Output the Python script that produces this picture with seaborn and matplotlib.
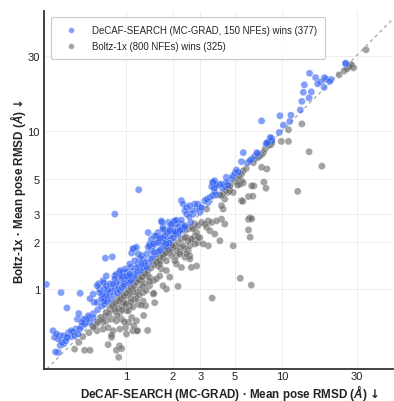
import numpy as np
import pandas as pd
import matplotlib
matplotlib.use("Agg")
import matplotlib.pyplot as plt
import seaborn as sns
from matplotlib.ticker import FixedLocator, FixedFormatter, NullLocator

# ---- data: (DeCAF-SEARCH RMSD, Boltz-1x RMSD), by region ----
hi_decaf = [15.0,16.4,13.9,13.7,15.4,13.4,14.9,13.1,9.7,11.4,10.2,11.2,9.6,8.6,16.9,17.7,18.7,19.1,20.6,18.6,20.2,25.5,25.6,7.4,8.0,
            23.2,25.0,26.0,27.0,27.7,28.7,28.0,34.5,9.9,11.0,11.0,13.4,14.9,18.0,12.6,8.6]
hi_boltz = [23.2,21.8,19.6,17.6,17.7,15.4,16.2,13.6,12.5,12.6,10.9,11.5,9.8,9.0,19.9,20.5,21.8,21.2,21.2,18.9,20.6,26.9,26.6,11.6,8.4,
            22.7,24.0,24.7,25.5,26.3,25.1,25.9,32.7,8.6,8.6,10.2,11.1,7.4,6.0,4.15,8.5]

mid_decaf = [8.4,8.1,7.9,8.2,8.6,5.65,5.5,6.24,6.4,6.0,6.55,6.9,7.0,6.7,7.0,5.1,5.25,5.0,5.5,5.3,3.7,3.6,3.8,3.55,3.7,4.1,4.4,4.5,4.3,4.6,4.85,4.75,
             8.5,8.5,7.8,7.6,7.4,7.2,6.7,7.4,8.0,5.9,5.65,5.25,5.5,5.0,5.65,4.64,4.4,4.2,4.1,4.0,7.66,7.9,6.4,6.6,6.1,6.5]
mid_boltz = [9.1,8.5,8.3,8.1,8.7,7.3,6.4,6.5,6.65,6.3,6.3,7.3,7.2,6.95,6.8,5.67,5.5,5.4,5.35,5.2,4.85,4.75,4.55,4.45,4.35,4.6,4.75,4.55,4.45,4.5,5.2,5.0,
             8.4,8.2,7.7,7.3,7.1,6.95,6.65,5.9,5.75,5.8,5.6,5.0,4.85,4.8,4.7,4.5,4.2,4.0,3.9,3.95,4.75,4.35,4.5,4.5,3.85,3.87]

out_decaf = [5.6,6.1,6.25,6.4,6.1,6.25,4.87,5.4,6.36,5.2,5.37,3.57,1.51,1.30,1.18,1.38,1.125,1.34,1.26,2.16]
out_boltz = [3.59,2.76,2.83,2.78,2.37,2.13,1.88,1.17,1.06,4.55,4.6,0.877,0.94,0.68,0.545,0.547,0.586,0.784,0.79,1.04]

c_decaf = [4.4,4.15,4.0,3.6,3.7,3.7,3.6,3.8,3.45,3.3,3.2,3.37,2.27,2.33,2.45,2.39,2.57,2.77,2.9,2.98,2.84,2.64,2.98,2.7,2.45,1.69,1.73,1.87,1.96,2.06,
           2.11,2.16,2.27,2.01,1.91,1.78,1.61,1.53,1.46,1.39,1.42,1.50,1.57,1.65,1.73,1.82,1.91,2.06,2.16,2.33,3.06,3.29,
           4.42,4.64,4.53,4.87,5.5,4.3,4.1,4.2,3.81,4.1,4.3,4.0,3.71,3.45,3.29,3.21,3.06,2.9,2.77,2.64,2.51,2.39,2.45,2.64,2.77,2.98,2.9,3.13,3.37,2.27,
           2.16,2.06,1.96,2.22,2.51,2.57,2.39,2.11,1.91,1.78,1.80,1.65,1.62,1.56,3.54,3.37]
c_boltz = [5.1,4.35,4.6,4.7,4.4,4.1,3.9,3.95,3.8,3.7,3.62,3.54,3.63,3.45,3.28,3.13,3.37,3.45,3.45,3.28,3.21,3.13,3.06,2.98,2.98,2.7,2.46,2.64,2.52,2.7,
           2.58,2.46,2.58,2.34,2.40,2.34,2.28,2.17,2.07,2.28,1.93,1.88,1.97,2.07,2.12,2.02,2.17,2.23,2.28,2.40,3.28,3.21,
           4.4,4.19,4.09,4.09,3.63,3.71,3.37,3.21,2.7,2.77,2.58,2.02,2.23,2.34,2.46,2.58,2.64,2.52,2.58,2.46,2.40,2.34,2.12,2.07,2.17,2.12,1.97,1.93,1.88,2.07,
           1.97,1.88,1.84,1.71,1.75,1.62,1.59,1.62,1.71,1.67,1.76,1.58,1.55,1.48,2.64,2.7]

d_decaf = [0.85,1.70,1.73,1.96,2.03,2.11,2.27,2.55,2.60,2.39,2.40,2.22,2.06,1.91,1.84,1.77,1.66,1.57,1.61,1.50,1.42,1.39,1.46,1.73,1.82,1.90,2.02,2.10,2.16,2.23,
           2.30,1.82,1.65,1.53,1.36,1.26,1.17,1.11,1.2,1.23,1.14,1.06,1.08,1.17,1.26,1.32,1.36,0.99,0.96,0.92,0.87,0.94,1.01,1.06,0.85,0.83,0.79,0.75,0.72,0.73,
           0.77,0.81,0.71,0.68,0.75,0.70,0.73,0.74,0.82,
           2.39,2.51,2.63,2.77,2.57,2.33,2.39,2.22,2.11,2.01,1.91,1.96,2.06,2.11,2.22,2.45,2.57,2.63,2.84,2.70,2.84,2.91,2.27,1.82,1.73,1.65,1.61,1.69,1.82,1.91,
           1.65,1.57,1.50,1.42,1.36,1.31,1.25,1.19,1.14,1.26,1.32,1.42,1.50,1.73,1.82,1.29,1.23,1.11,1.06,1.01,1.08,0.99,0.94,0.89,0.85,0.83,0.92,1.17,1.20,1.29,
           1.53,1.11,1.04,0.79,0.75]
d_boltz = [2.98,2.65,2.40,2.58,2.68,2.73,2.73,2.87,2.64,2.52,2.46,2.36,2.31,2.34,2.28,2.17,2.10,2.17,1.97,1.93,1.88,1.84,1.75,1.97,1.93,1.95,2.11,2.25,2.2,2.33,
           2.45,1.84,1.75,1.71,1.67,1.63,1.84,1.8,1.67,1.55,1.51,1.44,1.37,1.37,1.44,1.47,1.37,1.34,1.28,1.31,1.24,1.21,1.21,1.24,1.16,1.08,1.08,1.05,1.10,1.0,
           0.98,1.0,0.93,0.95,0.91,0.87,0.84,1.57,1.6,
           2.12,2.02,2.07,1.93,1.88,1.88,1.80,1.84,1.75,1.84,1.75,1.63,1.51,1.44,1.67,1.67,1.55,1.37,1.40,2.40,2.28,2.12,1.37,1.51,1.585,1.51,1.40,1.34,1.31,1.19,
           1.21,1.16,1.13,1.19,1.21,1.27,1.2,1.15,1.10,1.13,1.08,1.05,0.93,1.05,1.0,0.95,1.0,1.0,0.95,0.91,0.87,0.82,0.78,0.75,0.73,0.80,0.89,0.87,0.80,0.84,
           0.82,0.77,0.73,0.75,0.71]

e_decaf = [0.31,0.385,0.42,0.51,0.67,0.655,0.618,0.59,0.625,0.655,0.715,0.75,0.79,0.77,0.916,1.02,0.94,1.0,0.85,0.87,0.89,0.97,1.06,1.08,1.13,0.5,0.49,0.535,0.525,0.56,
           0.575,0.545,0.59,0.618,0.447,0.43,0.459,0.507,0.494,0.47,0.42,0.40,0.378,0.36,0.35,0.342,0.37,0.39,0.413,0.40,0.38,0.355,0.37,0.425,0.75,0.715,0.85,0.68,1.21,1.13,
           1.09,
           0.47,0.545,0.59,0.77,0.91,0.94,0.90,0.81,0.618,0.655,0.715,0.77,0.83,0.916,0.995,0.75,0.81,0.87,0.94,1.04,1.09,1.17,1.01,0.916,0.85,1.06,1.14,0.97,0.87,1.04,
           1.17,0.94,0.69,0.715,0.65,1.01,1.11,1.19,0.81,0.87]
e_boltz = [1.07,0.95,0.76,0.94,1.08,1.05,0.93,0.87,0.824,0.824,0.89,0.845,0.95,0.91,1.27,1.28,1.19,1.16,1.02,1.10,1.0,1.05,1.21,1.13,1.2,0.70,0.645,0.645,0.615,0.645,
           0.678,0.60,0.615,0.66,0.545,0.53,0.538,0.558,0.52,0.507,0.495,0.507,0.507,0.52,0.495,0.545,0.483,0.46,0.47,0.45,0.44,0.40,0.397,0.495,1.21,1.13,1.21,1.0,4.25,1.81,
           1.69,
           0.417,0.41,0.41,0.445,0.437,0.42,0.37,0.495,0.57,0.545,0.558,0.57,0.545,0.558,0.57,0.63,0.645,0.63,0.645,0.615,0.66,0.63,0.73,0.71,0.747,0.78,0.86,0.824,0.845,0.93,
           0.95,0.908,0.66,0.615,0.60,0.52,0.545,0.545,0.51,0.41]

dense_decaf = [0.80,0.84,0.88,0.92,0.95,0.98,1.03,1.05,1.10,1.15,1.19,1.24,1.28,1.33,1.40,1.45,1.49,1.55,1.60,1.68,
               1.75,1.86,1.95,0.62,0.66,0.70,0.73,0.76,0.55,0.58,0.45,0.48,0.52,0.98,1.04,0.90,0.93,0.96,1.13,1.20,1.30,
               0.82,0.86,0.90,0.93,0.97,1.0,1.04,1.08,1.13,1.17,1.22,1.27,1.33,1.38,1.45,1.52,1.58,1.65,1.72,1.80,
               1.88,1.98,0.70,0.74,0.78,0.62,0.66,0.58,0.53,0.50,0.88,0.95,1.0,1.08,0.98,1.22,1.35,1.42,1.28,1.12]
dense_boltz = [0.86,0.92,0.95,0.98,1.02,1.08,1.12,1.09,1.16,1.24,1.28,1.31,1.36,1.40,1.47,1.55,1.60,1.66,1.72,1.80,
               1.88,2.0,2.06,0.70,0.74,0.78,0.80,0.83,0.61,0.66,0.50,0.56,0.58,1.14,1.18,1.06,1.14,1.19,1.30,1.43,1.55,
               0.78,0.81,0.84,0.86,0.90,0.94,0.98,1.02,1.05,1.10,1.14,1.19,1.25,1.30,1.36,1.43,1.49,1.44,1.65,1.70,
               1.78,1.90,0.64,0.68,0.70,0.58,0.62,0.53,0.50,0.46,0.68,0.74,0.80,0.83,0.62,0.92,0.98,1.12,1.05,0.95]

tick_values = [1, 2, 3, 5, 10, 30]
tick_labels = ["1", "2", "3", "5", "10", "30"]
label_decaf = "DeCAF-SEARCH (MC-GRAD, 150 NFEs) wins (377)"
label_boltz = "Boltz-1x (800 NFEs) wins (325)"
xlabel = "DeCAF-SEARCH (MC-GRAD) · Mean pose RMSD ($\\mathit{Å}$) $\\mathsf{↓}$"
ylabel = "Boltz-1x · Mean pose RMSD ($\\mathit{Å}$) $\\mathsf{↓}$"

decaf = hi_decaf + mid_decaf + out_decaf + c_decaf + d_decaf + e_decaf + dense_decaf
boltz = hi_boltz + mid_boltz + out_boltz + c_boltz + d_boltz + e_boltz + dense_boltz
df = pd.DataFrame({"decaf": decaf, "boltz": boltz})
df["winner"] = np.where(df["decaf"] < df["boltz"], label_decaf, label_boltz)
df = df.sort_values("winner", ascending=True).reset_index(drop=True)

sns.set_theme(style="white")
plt.rcParams["font.family"] = ["Liberation Sans", "DejaVu Sans"]
plt.rcParams["mathtext.fontset"] = "custom"
plt.rcParams["mathtext.it"] = "Liberation Sans:italic:bold"
plt.rcParams["mathtext.rm"] = "Liberation Sans:bold"
plt.rcParams["mathtext.sf"] = "DejaVu Sans:bold"

fig = plt.figure(figsize=(3.94, 4.02), dpi=100)
ax = fig.add_axes([0.112, 0.0796, 0.886, 0.8905])

blue = "#3160f4"
gray = "#666666"
sns.scatterplot(data=df, x="decaf", y="boltz", hue="winner",
                hue_order=[label_decaf, label_boltz], palette=[blue, gray],
                s=26, alpha=0.6, edgecolor="white", linewidth=0.25, ax=ax, zorder=3)

ax.set_xscale("log")
ax.set_yscale("log")
ax.set_xlim(0.30, 51.5)
ax.set_ylim(0.312, 57.5)
ax.axline((1, 1), (10, 10), color="#999999", lw=0.8, ls=(0, (3, 3)), zorder=2)

for axis in (ax.xaxis, ax.yaxis):
    axis.set_major_locator(FixedLocator(tick_values))
    axis.set_major_formatter(FixedFormatter(tick_labels))
    axis.set_minor_locator(NullLocator())
ax.tick_params(axis="both", which="both", length=0, labelsize=8, colors="#222222")
ax.tick_params(axis="x", pad=1.5)
ax.tick_params(axis="y", pad=3)
ax.grid(True, which="major", color="#eeeeee", lw=0.7)
ax.set_axisbelow(True)

for side in ("top", "right"):
    ax.spines[side].set_visible(False)
for side in ("left", "bottom"):
    ax.spines[side].set_color("#333333")
    ax.spines[side].set_linewidth(1.3)

ax.set_xlabel(xlabel, fontsize=8.4, fontweight="bold", color="#222222")
ax.set_ylabel(ylabel, fontsize=8.4, fontweight="bold", color="#222222")
ax.xaxis.set_label_coords(0.53, -0.064, transform=ax.transAxes)
ax.yaxis.set_label_coords(-0.074, 0.5, transform=ax.transAxes)
ax.xaxis.label.set_va("center")
ax.yaxis.label.set_va("center")

leg = ax.legend(loc="upper left", bbox_to_anchor=(0.02, 0.983), borderaxespad=0,
                fontsize=6.9, frameon=True,
                borderpad=0.85, labelspacing=0.6, handlelength=2.5, handletextpad=0.9,
                markerscale=0.8, fancybox=True)
leg.get_frame().set_edgecolor("#bbbbbb")
leg.get_frame().set_linewidth(0.8)

fig.savefig("out.png", dpi=100)
